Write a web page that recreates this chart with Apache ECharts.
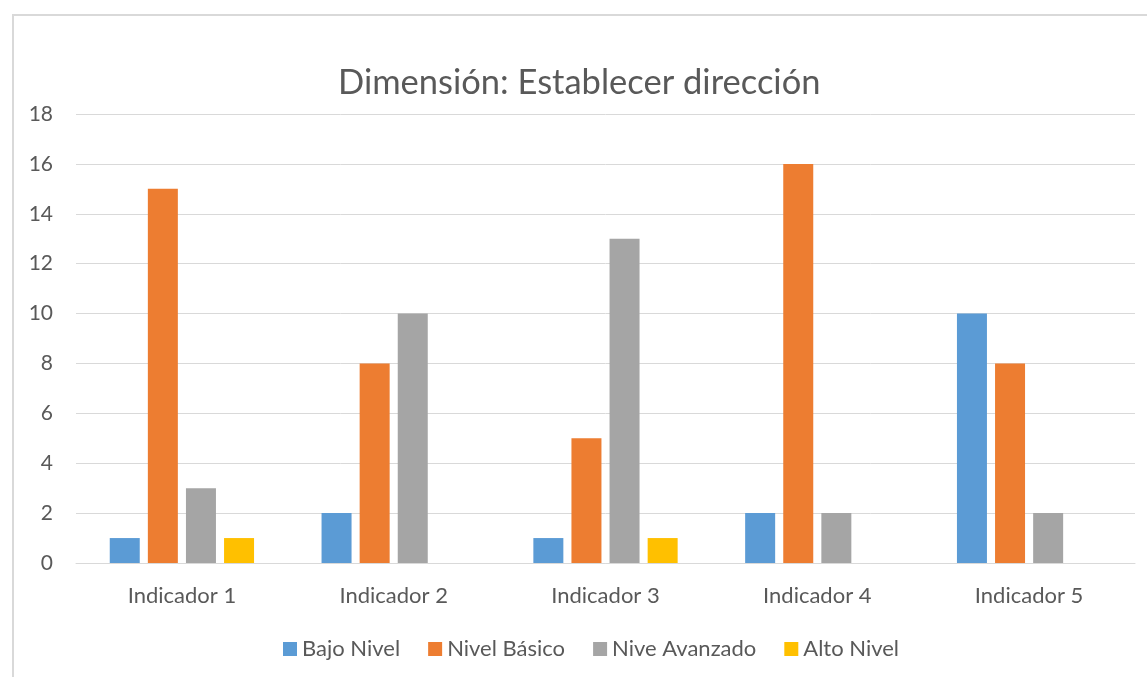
<!DOCTYPE html>
<html>
<head>
<meta charset="utf-8">
<script src="https://cdn.jsdelivr.net/npm/echarts@6/dist/echarts.min.js"></script>
<style>
  html, body { margin: 0; padding: 0; background: #fff; overflow: hidden; }
  #frame {
    position: absolute; left: 12px; top: 14px; width: 1160px; height: 700px;
    border: 2px solid #d9d9d9; box-sizing: border-box;
  }
  #chart { position: absolute; left: 0; top: 0; width: 1147px; height: 677px; }
</style>
</head>
<body>
<div id="frame"></div>
<div id="chart"></div>
<script>
const categories = ["Indicador 1", "Indicador 2", "Indicador 3", "Indicador 4", "Indicador 5"];
const seriesNames = ["Bajo Nivel", "Nivel Básico", "Nive Avanzado", "Alto Nivel"];
const bajoNivel = [1, 2, 1, 2, 10];
const nivelBasico = [15, 8, 5, 16, 8];
const niveAvanzado = [3, 10, 13, 2, 2];
const altoNivel = [1, 0, 1, 0, 0];
const colors = ["#5b9bd5", "#ed7d31", "#a5a5a5", "#ffc000"];

const font = "Lato, 'Open Sans', sans-serif";
const chart = echarts.init(document.getElementById("chart"));

const values = [bajoNivel, nivelBasico, niveAvanzado, altoNivel];

chart.setOption({
  animation: false,
  title: {
    text: "Dimensión: Establecer dirección",
    left: 333,
    top: 60,
    textStyle: { color: "#595959", fontSize: 34.5, fontWeight: "normal", fontFamily: font }
  },
  legend: {
    data: seriesNames,
    bottom: 12,
    left: 278,
    icon: "rect",
    itemWidth: 14,
    itemHeight: 14,
    itemGap: 28,
    textStyle: { color: "#595959", fontSize: 22, fontFamily: font }
  },
  grid: { left: 76, right: 12, top: 114, bottom: 114, containLabel: false },
  xAxis: {
    type: "category",
    data: categories,
    axisLine: { lineStyle: { color: "#d9d9d9", width: 1 } },
    axisTick: { show: false },
    axisLabel: { color: "#595959", fontSize: 22, fontFamily: font, margin: 22 }
  },
  yAxis: {
    type: "value",
    min: 0,
    max: 18,
    interval: 2,
    axisLine: { show: false },
    axisTick: { show: false },
    axisLabel: { color: "#595959", fontSize: 21, fontFamily: font, margin: 23 },
    splitLine: { lineStyle: { color: "#d9d9d9", width: 1 } }
  },
  series: seriesNames.map((name, i) => ({
    name,
    type: "bar",
    data: values[i],
    barWidth: 30,
    barGap: "27%",
    itemStyle: { color: colors[i] }
  }))
});
</script>
</body>
</html>
